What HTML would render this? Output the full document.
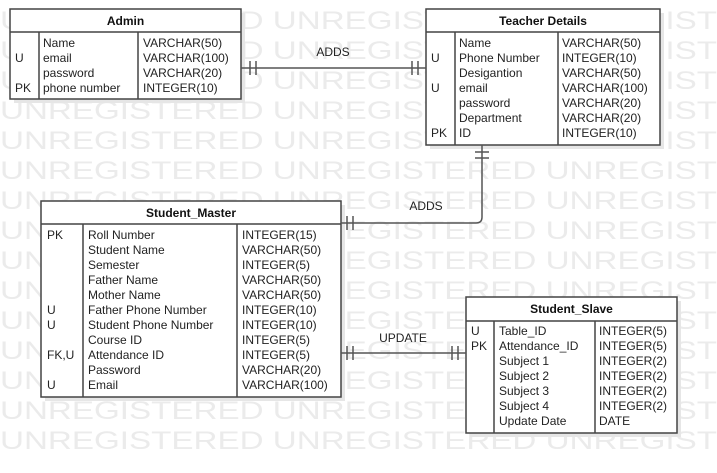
<!DOCTYPE html>
<html><head><meta charset="utf-8"><style>
body{margin:0;width:717px;height:473px;background:#fff;overflow:hidden;font-family:"Liberation Sans",sans-serif}
svg{position:absolute;left:0;top:0}
</style></head><body>
<svg width="717" height="473" viewBox="0 0 717 473" font-family="Liberation Sans, sans-serif">
<g fill="#ebebeb" font-size="25">
<text x="0" y="29" textLength="717" lengthAdjust="spacingAndGlyphs">UNREGISTERED UNREGISTERED UNREGIST</text>
<text x="0" y="59" textLength="717" lengthAdjust="spacingAndGlyphs">UNREGISTERED UNREGISTERED UNREGIST</text>
<text x="0" y="89" textLength="717" lengthAdjust="spacingAndGlyphs">UNREGISTERED UNREGISTERED UNREGIST</text>
<text x="0" y="119" textLength="717" lengthAdjust="spacingAndGlyphs">UNREGISTERED UNREGISTERED UNREGIST</text>
<text x="0" y="149" textLength="717" lengthAdjust="spacingAndGlyphs">UNREGISTERED UNREGISTERED UNREGIST</text>
<text x="0" y="179" textLength="717" lengthAdjust="spacingAndGlyphs">UNREGISTERED UNREGISTERED UNREGIST</text>
<text x="0" y="209" textLength="717" lengthAdjust="spacingAndGlyphs">UNREGISTERED UNREGISTERED UNREGIST</text>
<text x="0" y="239" textLength="717" lengthAdjust="spacingAndGlyphs">UNREGISTERED UNREGISTERED UNREGIST</text>
<text x="0" y="269" textLength="717" lengthAdjust="spacingAndGlyphs">UNREGISTERED UNREGISTERED UNREGIST</text>
<text x="0" y="299" textLength="717" lengthAdjust="spacingAndGlyphs">UNREGISTERED UNREGISTERED UNREGIST</text>
<text x="0" y="329" textLength="717" lengthAdjust="spacingAndGlyphs">UNREGISTERED UNREGISTERED UNREGIST</text>
<text x="0" y="359" textLength="717" lengthAdjust="spacingAndGlyphs">UNREGISTERED UNREGISTERED UNREGIST</text>
<text x="0" y="389" textLength="717" lengthAdjust="spacingAndGlyphs">UNREGISTERED UNREGISTERED UNREGIST</text>
<text x="0" y="419" textLength="717" lengthAdjust="spacingAndGlyphs">UNREGISTERED UNREGISTERED UNREGIST</text>
<text x="0" y="449" textLength="717" lengthAdjust="spacingAndGlyphs">UNREGISTERED UNREGISTERED UNREGIST</text>
</g>
<g fill="#e6e6e6">
<rect x="14" y="13" width="231" height="90"/>
<rect x="430" y="13" width="234" height="136"/>
<rect x="45" y="205" width="300" height="196"/>
<rect x="470" y="301" width="211" height="136"/>
</g>
<g fill="#fff" stroke="#444" stroke-width="1.5">
<rect x="10" y="9" width="231" height="90"/>
<rect x="426" y="9" width="234" height="136"/>
<rect x="41" y="201" width="300" height="196"/>
<rect x="466" y="297" width="211" height="136"/>
</g>
<g stroke="#444" stroke-width="1.5">
<line x1="10" y1="32" x2="241" y2="32"/><line x1="39" y1="32" x2="39" y2="99"/><line x1="138" y1="32" x2="138" y2="99"/>
<line x1="426" y1="32" x2="660" y2="32"/><line x1="455" y1="32" x2="455" y2="145"/><line x1="558" y1="32" x2="558" y2="145"/>
<line x1="41" y1="224" x2="341" y2="224"/><line x1="83" y1="224" x2="83" y2="397"/><line x1="237" y1="224" x2="237" y2="397"/>
<line x1="466" y1="321" x2="677" y2="321"/><line x1="494" y1="321" x2="494" y2="433"/><line x1="595" y1="321" x2="595" y2="433"/>
</g>
<g stroke="#555" stroke-width="1.5" fill="none">
<line x1="241" y1="68" x2="426" y2="68"/>
<line x1="250" y1="61" x2="250" y2="75"/><line x1="256" y1="61" x2="256" y2="75"/>
<line x1="412" y1="61" x2="412" y2="75"/><line x1="418" y1="61" x2="418" y2="75"/>
<path d="M482 145 V217 Q482 223 476 223 H341"/>
<line x1="475" y1="152" x2="489" y2="152"/><line x1="475" y1="158" x2="489" y2="158"/>
<line x1="347" y1="216" x2="347" y2="230"/><line x1="353" y1="216" x2="353" y2="230"/>
<line x1="341" y1="353" x2="466" y2="353"/>
<line x1="347" y1="346" x2="347" y2="360"/><line x1="353" y1="346" x2="353" y2="360"/>
<line x1="452" y1="346" x2="452" y2="360"/><line x1="458" y1="346" x2="458" y2="360"/>
</g>
<g font-size="12" fill="#222">
<text x="333" y="56" text-anchor="middle">ADDS</text>
<text x="426" y="210" text-anchor="middle">ADDS</text>
<text x="403" y="342" text-anchor="middle">UPDATE</text>
</g>
<g font-size="12" font-weight="bold" fill="#111" text-anchor="middle">
<text x="125.5" y="25">Admin</text>
<text x="543" y="25">Teacher Details</text>
<text x="191" y="217">Student_Master</text>
<text x="571.5" y="313">Student_Slave</text>
</g>
<g font-size="12" fill="#222">
<text x="15" y="62">U</text><text x="15" y="92">PK</text>
<text x="43" y="47">Name</text><text x="43" y="62">email</text><text x="43" y="77">password</text><text x="43" y="92">phone number</text>
<text x="143" y="47">VARCHAR(50)</text><text x="143" y="62">VARCHAR(100)</text><text x="143" y="77">VARCHAR(20)</text><text x="143" y="92">INTEGER(10)</text>

<text x="431" y="62">U</text><text x="431" y="92">U</text><text x="431" y="137">PK</text>
<text x="459" y="47">Name</text><text x="459" y="62">Phone Number</text><text x="459" y="77">Desigantion</text><text x="459" y="92">email</text><text x="459" y="107">password</text><text x="459" y="122">Department</text><text x="459" y="137">ID</text>
<text x="562" y="47">VARCHAR(50)</text><text x="562" y="62">INTEGER(10)</text><text x="562" y="77">VARCHAR(50)</text><text x="562" y="92">VARCHAR(100)</text><text x="562" y="107">VARCHAR(20)</text><text x="562" y="122">VARCHAR(20)</text><text x="562" y="137">INTEGER(10)</text>

<text x="47" y="239">PK</text><text x="47" y="314">U</text><text x="47" y="329">U</text><text x="47" y="359">FK,U</text><text x="47" y="389">U</text>
<text x="88" y="239">Roll Number</text><text x="88" y="254">Student Name</text><text x="88" y="269">Semester</text><text x="88" y="284">Father Name</text><text x="88" y="299">Mother Name</text><text x="88" y="314">Father Phone Number</text><text x="88" y="329">Student Phone Number</text><text x="88" y="344">Course ID</text><text x="88" y="359">Attendance ID</text><text x="88" y="374">Password</text><text x="88" y="389">Email</text>
<text x="242" y="239">INTEGER(15)</text><text x="242" y="254">VARCHAR(50)</text><text x="242" y="269">INTEGER(5)</text><text x="242" y="284">VARCHAR(50)</text><text x="242" y="299">VARCHAR(50)</text><text x="242" y="314">INTEGER(10)</text><text x="242" y="329">INTEGER(10)</text><text x="242" y="344">INTEGER(5)</text><text x="242" y="359">INTEGER(5)</text><text x="242" y="374">VARCHAR(20)</text><text x="242" y="389">VARCHAR(100)</text>

<text x="471" y="335">U</text><text x="471" y="350">PK</text>
<text x="499" y="335">Table_ID</text><text x="499" y="350">Attendance_ID</text><text x="499" y="365">Subject 1</text><text x="499" y="380">Subject 2</text><text x="499" y="395">Subject 3</text><text x="499" y="410">Subject 4</text><text x="499" y="425">Update Date</text>
<text x="599" y="335">INTEGER(5)</text><text x="599" y="350">INTEGER(5)</text><text x="599" y="365">INTEGER(2)</text><text x="599" y="380">INTEGER(2)</text><text x="599" y="395">INTEGER(2)</text><text x="599" y="410">INTEGER(2)</text><text x="599" y="425">DATE</text>
</g>
</svg>
</body></html>
